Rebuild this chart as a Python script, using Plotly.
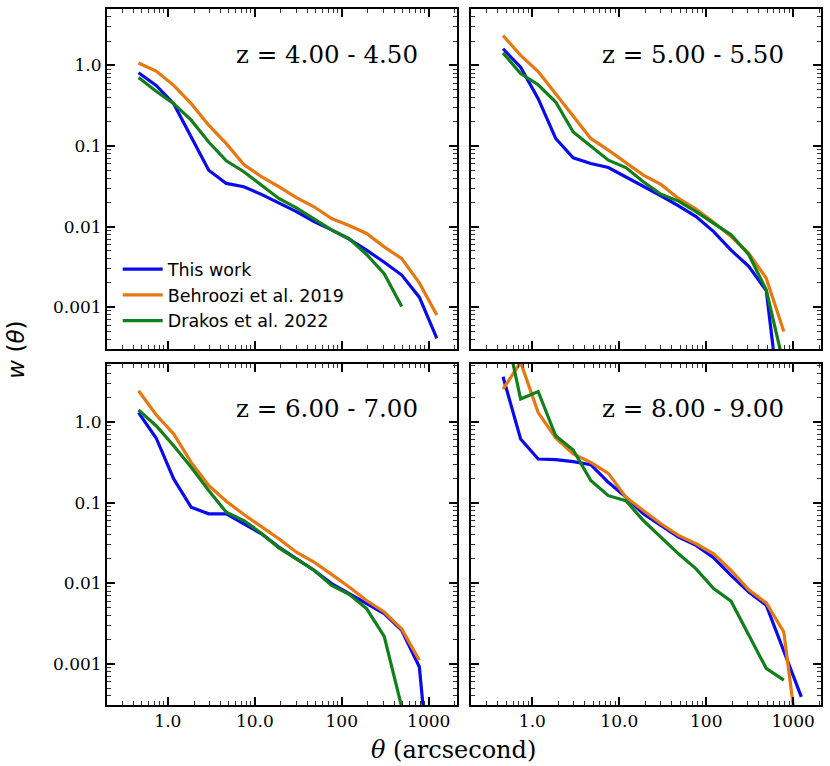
import plotly.graph_objects as go

theta = [0.46, 0.733, 1.167, 1.855, 2.95, 4.70, 7.48, 11.9, 18.9, 30.1,
         48.0, 76.4, 121.6, 193, 308, 490, 780, 1241]

panel_labels = ["z = 4.00 - 4.50", "z = 5.00 - 5.50", "z = 6.00 - 7.00", "z = 8.00 - 9.00"]
series_names = ["This work", "Behroozi et al. 2019", "Drakos et al. 2022"]
series_colors = ["#0a0af0", "#e8770f", "#12801a"]

# panel z = 4.00 - 4.50
w1_this = [0.81, 0.565, 0.335, 0.13, 0.050, 0.0343, 0.0312, 0.0251, 0.0194, 0.0153,
           0.0115, 0.0091, 0.0070, 0.0051, 0.0036, 0.0025, 0.00133, 0.00041]
w1_beh = [1.07, 0.85, 0.565, 0.335, 0.181, 0.107, 0.059, 0.0415, 0.0312, 0.0228,
          0.0176, 0.0126, 0.0103, 0.0082, 0.0056, 0.0040, 0.0020, 0.00080]
w1_dra = [0.71, 0.477, 0.335, 0.209, 0.112, 0.0654, 0.0479, 0.0327, 0.0223, 0.0171,
          0.0126, 0.0091, 0.0071, 0.0045, 0.0026, 0.00102]

# panel z = 5.00 - 5.50
w2_this = [1.61, 0.95, 0.386, 0.124, 0.0713, 0.0605, 0.054, 0.0415, 0.0312, 0.0241,
           0.0181, 0.0133, 0.00865, 0.0051, 0.0032, 0.0016, 0.000025]
w2_beh = [2.35, 1.33, 0.84, 0.445, 0.24, 0.124, 0.0887, 0.0624, 0.0435, 0.0333,
          0.0223, 0.0165, 0.0113, 0.0075, 0.00466, 0.00229, 0.0005]
w2_dra = [1.43, 0.79, 0.575, 0.351, 0.149, 0.100, 0.0667, 0.054, 0.036, 0.0251,
          0.0207, 0.0153, 0.011, 0.0079, 0.0045, 0.00164, 0.00019]

# panel z = 6.00 - 7.00
w3_this = [1.31, 0.634, 0.197, 0.0877, 0.0726, 0.0726, 0.0547, 0.0411, 0.0281, 0.0201,
           0.0145, 0.0099, 0.0074, 0.0056, 0.0042, 0.0026, 0.00092, 0.000005]
w3_beh = [2.44, 1.23, 0.71, 0.316, 0.163, 0.104, 0.0713, 0.0506, 0.0356, 0.0243,
          0.0183, 0.0129, 0.009, 0.0061, 0.0044, 0.0027, 0.00111]
w3_dra = [1.41, 0.90, 0.509, 0.274, 0.141, 0.076, 0.060, 0.0418, 0.0275, 0.0201,
          0.0145, 0.0094, 0.0073, 0.00485, 0.0022, 0.00029]

# panel z = 8.00 - 9.00
w4_this = [3.64, 0.615, 0.348, 0.341, 0.323, 0.296, 0.179, 0.117, 0.0726, 0.0521,
           0.0373, 0.0295, 0.0207, 0.0125, 0.0078, 0.00533, 0.00148, 0.00039]
w4_beh = [2.56, 5.5, 1.31, 0.634, 0.402, 0.316, 0.231, 0.117, 0.0798, 0.0547,
          0.0392, 0.0309, 0.0232, 0.0145, 0.0083, 0.0057, 0.00249, 0.00005]
w4_dra = [20.0, 1.93, 2.39, 0.676, 0.45, 0.188, 0.122, 0.106, 0.060, 0.0373,
          0.0232, 0.0151, 0.0086, 0.0060, 0.00226, 0.00088, 0.00063]

panels = [
    (w1_this, w1_beh, w1_dra),
    (w2_this, w2_beh, w2_dra),
    (w3_this, w3_beh, w3_dra),
    (w4_this, w4_beh, w4_dra),
]

x_tickvals = [1, 10, 100, 1000]
x_ticktext = ["1.0", "10.0", "100", "1000"]
y_tickvals = [1, 0.1, 0.01, 0.001]
y_ticktext = ["1.0", "0.1", "0.01", "0.001"]

W, H = 830, 766
ML, MR, MT, MB = 107, 8, 7, 61
PW = W - ML - MR
PH = H - MT - MB
xdoms = [[0, 350 / PW], [365 / PW, 1]]
ydoms = [[(705 - 348) / PH, 1], [0, (705 - 363) / PH]]
yranges = [[-3.52, 0.70], [-3.51, 0.72]]

fig = go.Figure()
serif = "DejaVu Serif"
sans = "DejaVu Sans"

for i, data in enumerate(panels):
    r, c = divmod(i, 2)
    n = i + 1
    xa = "x" if n == 1 else f"x{n}"
    ya = "y" if n == 1 else f"y{n}"
    for k, vals in enumerate(data):
        fig.add_trace(go.Scatter(
            x=theta[:len(vals)], y=vals, mode="lines",
            line=dict(color=series_colors[k], width=3.2),
            name=series_names[k], showlegend=(i == 0),
            xaxis=xa, yaxis=ya, cliponaxis=True,
        ))
    axis_common = dict(
        type="log", showgrid=False, zeroline=False,
        showline=True, linecolor="black", linewidth=2, mirror="ticks",
        ticks="inside", ticklen=8, tickwidth=1.5, tickcolor="black",
        minor=dict(ticks="inside", ticklen=4, tickwidth=1, tickcolor="#333", dtick="D1", showgrid=False),
        tickfont=dict(family=serif, size=17, color="black"),
    )
    xkey = "xaxis" if n == 1 else f"xaxis{n}"
    ykey = "yaxis" if n == 1 else f"yaxis{n}"
    fig.update_layout({
        xkey: dict(axis_common, domain=xdoms[c], range=[-0.70, 3.32],
                   tickvals=x_tickvals, ticktext=x_ticktext,
                   showticklabels=(r == 1), anchor=ya),
        ykey: dict(axis_common, domain=ydoms[r], range=yranges[r],
                   tickvals=y_tickvals, ticktext=y_ticktext,
                   showticklabels=(c == 0), anchor=xa),
    })
    fig.add_annotation(
        text=panel_labels[i], xref=f"{xa} domain", yref=f"{ya} domain",
        x=0.895 if c == 0 else 0.9, y=0.865 if r == 0 else 0.87,
        xanchor="right", yanchor="middle", showarrow=False,
        font=dict(family=serif, size=24.5, color="black"),
    )

fig.add_annotation(
    text="<i>θ</i> (arcsecond)", xref="paper", yref="paper",
    x=0.485, y=-0.041, xanchor="center", yanchor="top", showarrow=False,
    font=dict(family=serif, size=24, color="black"),
)
fig.add_annotation(
    text="<i>w</i> (<i>θ</i>)", xref="paper", yref="paper",
    x=-0.128, y=0.51, xanchor="center", yanchor="middle", showarrow=False,
    textangle=-90, font=dict(family=sans, size=23, color="black"),
)

fig.update_layout(
    width=W, height=H,
    margin=dict(l=ML, r=MR, t=MT, b=MB),
    paper_bgcolor="white", plot_bgcolor="white",
    showlegend=True,
    legend=dict(x=0.015, y=ydoms[0][0] + 0.014, xanchor="left", yanchor="bottom",
                xref="paper", yref="paper",
                bgcolor="rgba(0,0,0,0)", borderwidth=0,
                font=dict(family=sans, size=17.5, color="black"),
                itemwidth=40, tracegroupgap=0),
)

fig.write_html("out.html", config={"displayModeBar": False},
               post_script="document.body.style.margin='0';document.body.style.overflow='hidden';")
